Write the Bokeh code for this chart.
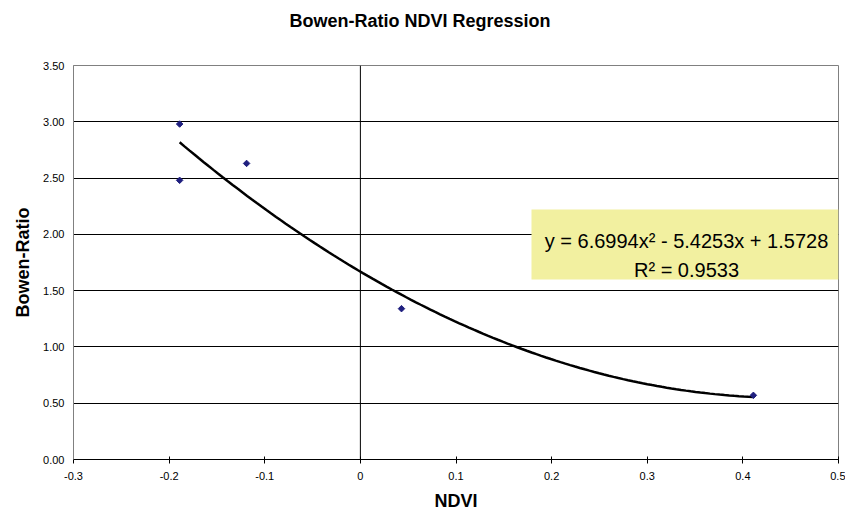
import numpy as np
from bokeh.plotting import figure
from bokeh.models import Range1d, FixedTicker, NumeralTickFormatter, Span, Label, BoxAnnotation, Title
from bokeh.embed import file_html
from bokeh.resources import INLINE

# ---- data ----
title_text = "Bowen-Ratio NDVI Regression"
x_title = "NDVI"
y_title = "Bowen-Ratio"
ndvi = [-0.189, -0.189, -0.119, 0.043, 0.411]
bowen = [2.98, 2.48, 2.63, 1.34, 0.57]
x_ticks = [-0.3, -0.2, -0.1, 0.0, 0.1, 0.2, 0.3, 0.4, 0.5]
x_tick_labels = ["-0.3", "-0.2", "-0.1", "0", "0.1", "0.2", "0.3", "0.4", "0.5"]
y_ticks = [0.0, 0.5, 1.0, 1.5, 2.0, 2.5, 3.0, 3.5]
equation = "y = 6.6994x\u00b2 - 5.4253x + 1.5728"
r_squared = "R\u00b2 = 0.9533"

# quadratic trend line fitted to the points
coef = np.polyfit(ndvi, bowen, 2)
tx = np.linspace(min(ndvi), max(ndvi), 120)
ty = np.polyval(coef, tx)

FONT = "Liberation Sans"

p = figure(width=845, height=513, output_backend="svg", toolbar_location=None,
           x_range=Range1d(-0.3, 0.5), y_range=Range1d(0, 3.5),
           min_border_left=73, min_border_right=7, min_border_top=65, min_border_bottom=54,
           background_fill_color="white", border_fill_color="white",
           title=None)

# spacer between title and plot area, then the title itself
p.add_layout(Title(text=" ", standoff=13, text_font=FONT, text_font_size="18px"), "above")
p.add_layout(Title(text=title_text, align="left", offset=216, standoff=0,
                   text_font=FONT, text_font_size="18px", text_font_style="bold",
                   text_color="black"), "above")

p.outline_line_color = "#808080"
p.outline_line_width = 1

# grid
p.xgrid.grid_line_color = None
p.ygrid.ticker = FixedTicker(ticks=y_ticks[1:-1])
p.ygrid.grid_line_color = "black"
p.ygrid.grid_line_width = 1

# x axis
xa = p.xaxis[0]
xa.ticker = FixedTicker(ticks=x_ticks)
xa.major_label_overrides = {t: l for t, l in zip(x_ticks, x_tick_labels)}
xa.axis_line_color = "black"
xa.major_tick_line_color = "black"
xa.major_tick_in = 3
xa.major_tick_out = 4
xa.minor_tick_line_color = None
xa.major_label_standoff = 8
xa.major_label_text_font = FONT
xa.major_label_text_font_size = "11px"
xa.major_label_text_color = "black"
xa.axis_label = x_title
xa.axis_label_standoff = 8
xa.axis_label_text_font = FONT
xa.axis_label_text_font_size = "18px"
xa.axis_label_text_font_style = "bold"
xa.axis_label_text_color = "black"

# y axis
ya = p.yaxis[0]
ya.ticker = FixedTicker(ticks=y_ticks)
ya.formatter = NumeralTickFormatter(format="0.00")
ya.axis_line_color = "#808080"
ya.major_tick_line_color = None
ya.minor_tick_line_color = None
ya.major_tick_out = 0
ya.major_tick_in = 0
ya.major_label_standoff = 9
ya.major_label_text_font = FONT
ya.major_label_text_font_size = "11px"
ya.major_label_text_color = "black"
ya.axis_label = y_title
ya.axis_label_standoff = 7
ya.axis_label_text_font = FONT
ya.axis_label_text_font_size = "18px"
ya.axis_label_text_font_style = "bold"
ya.axis_label_text_color = "black"

# value axis crossing at x = 0
p.add_layout(Span(location=0, dimension="height", line_color="black", line_width=1))

# trend line and points
p.line(tx, ty, line_color="black", line_width=2.5)
p.scatter(ndvi, bowen, marker="square", angle=np.pi / 4, size=4.6,
          fill_color="#1f1f7f", line_color="#1f1f7f")

# equation box
p.add_layout(BoxAnnotation(left=458, right=765, top=250, bottom=180,
                           left_units="screen", right_units="screen",
                           top_units="screen", bottom_units="screen",
                           fill_color="#f2f0a0", fill_alpha=1, line_color=None))
p.add_layout(Label(x=613, y=219, x_units="screen", y_units="screen", text=equation,
                   text_align="center", text_baseline="alphabetic",
                   text_font=FONT, text_font_size="20px", text_color="black"))
p.add_layout(Label(x=613, y=190, x_units="screen", y_units="screen", text=r_squared,
                   text_align="center", text_baseline="alphabetic",
                   text_font=FONT, text_font_size="20px", text_color="black"))

open("out.html", "w").write(file_html(p, INLINE))
